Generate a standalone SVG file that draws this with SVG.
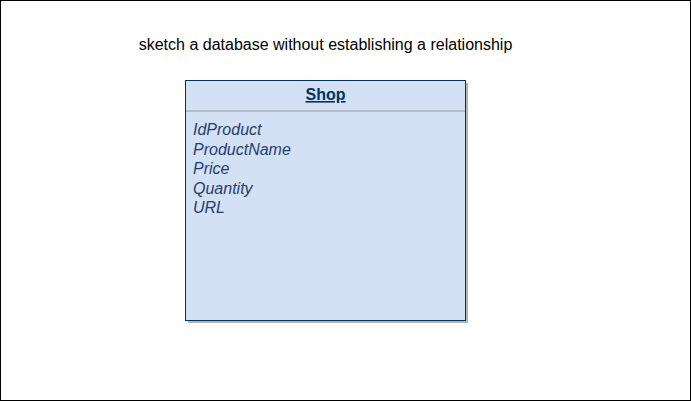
<svg xmlns="http://www.w3.org/2000/svg" width="691" height="401" viewBox="0 0 691 401">
<style>
.t{font-family:"Liberation Sans",Arial,sans-serif;fill:#000}
.h{font-family:"Liberation Sans",Arial,sans-serif;font-weight:bold;font-size:16px;fill:#003366;text-decoration:underline}
.f{font-family:"Liberation Sans",Arial,sans-serif;font-style:italic;font-size:16px;fill:#1f3f6e}
</style>
<rect x="0.5" y="0.5" width="690" height="400" fill="#fff" stroke="#000"/>
<text class="t" x="325.5" y="50" font-size="16" text-anchor="middle">sketch a database without establishing a relationship</text>
<g id="shop">
<rect x="188" y="83" width="280" height="240" fill="#b3b3b3"/>
<rect x="185.5" y="80.5" width="280" height="240" fill="#d4e1f5" stroke="#003366"/>
<line x1="186" y1="111" x2="465" y2="111" stroke="#999"/>
<text class="h" x="325.5" y="100" text-anchor="middle">Shop</text>
<text class="f" x="193" y="135">IdProduct</text>
<text class="f" x="193" y="154.5">ProductName</text>
<text class="f" x="193" y="174">Price</text>
<text class="f" x="193" y="193.5">Quantity</text>
<text class="f" x="193" y="213">URL</text>
</g>
<g id="connectors"/>
</svg>
